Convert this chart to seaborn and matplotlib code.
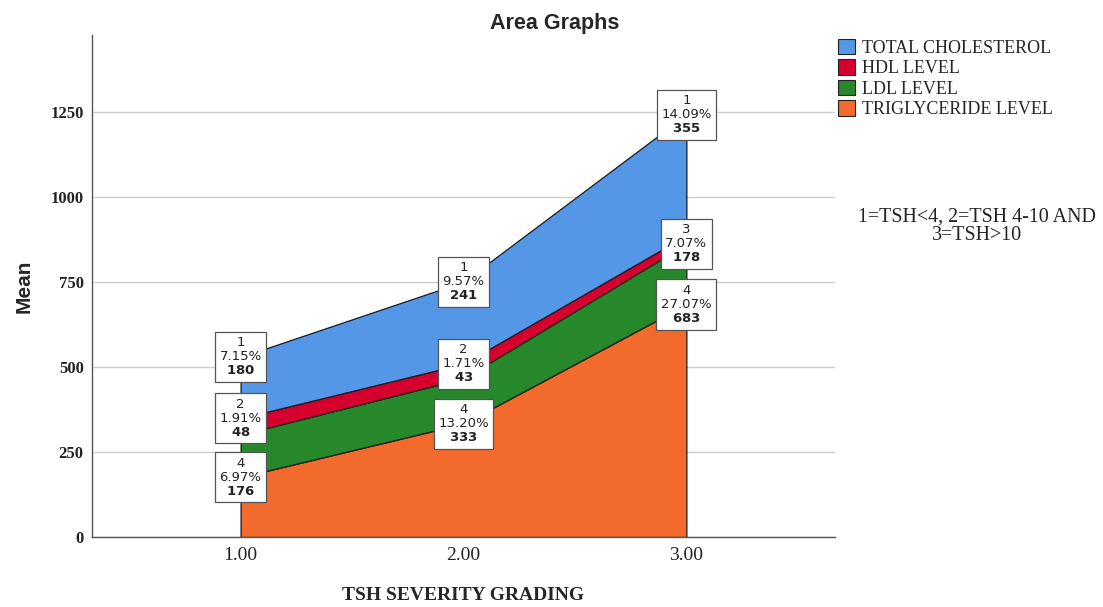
import numpy as np
import matplotlib
matplotlib.use("Agg")
import matplotlib.pyplot as plt
from matplotlib.patches import Patch
import seaborn as sns

# Mean values per TSH severity grade, stacked bottom to top
grading = [1.0, 2.0, 3.0]
triglyceride = [176, 333, 683]
ldl = [125, 133, 178]
hdl = [48, 43, 25]
total_chol = [180, 241, 355]

# Share of grand total shown in the value boxes (None = no box)
pct_total_chol = [7.15, 9.57, 14.09]
pct_hdl = [1.91, 1.71, None]
pct_ldl = [None, None, 7.07]
pct_triglyceride = [6.97, 13.20, 27.07]

series_names = ["TRIGLYCERIDE LEVEL", "LDL LEVEL", "HDL LEVEL", "TOTAL CHOLESTEROL"]
series_ids = [4, 3, 2, 1]
colors = ["#f26a2c", "#27882b", "#d6002f", "#5497e6"]
xtick_labels = ["1.00", "2.00", "3.00"]
yticks = [0, 250, 500, 750, 1000, 1250]

sns.set_theme(style="whitegrid")
plt.rcParams["font.family"] = ["DejaVu Sans"]

fig = plt.figure(figsize=(11.03, 6.07), dpi=100)
ax = fig.add_axes([0.0834, 0.1153, 0.6736, 0.827])

layers = [triglyceride, ldl, hdl, total_chol]
ax.stackplot(grading, *layers, colors=colors, edgecolor="#1a1a1a",
             linewidth=0.9, zorder=2)

# value boxes at the top of each layer
pcts = [pct_triglyceride, pct_ldl, pct_hdl, pct_total_chol]
cum = np.cumsum(np.array(layers, dtype=float), axis=0)
for li, (vals, pc) in enumerate(zip(layers, pcts)):
    for xi, x in enumerate(grading):
        if pc[xi] is None:
            continue
        txt = f"{series_ids[li]}\n{pc[xi]:.2f}%\n$\\mathbf{{{vals[xi]}}}$"
        ax.text(x, cum[li, xi], txt, ha="center", va="center",
                multialignment="center", fontsize=9.5, linespacing=1.1,
                color="#222222", zorder=5,
                bbox=dict(boxstyle="square,pad=0.35", facecolor="white",
                          edgecolor="#555555", linewidth=0.9))

ax.set_xlim(1 / 3, 11 / 3)
ax.set_ylim(0, 1475)
ax.set_xticks(grading)
ax.set_xticklabels(xtick_labels, family="Liberation Serif", fontsize=14)
ax.set_yticks(yticks)
ax.set_yticklabels([str(v) for v in yticks], family="Liberation Serif",
                   fontsize=12, fontweight="bold")
ax.tick_params(axis="x", length=0, pad=7, colors="#222222")
ax.tick_params(axis="y", length=0, pad=6, colors="#222222")
ax.grid(axis="x", visible=False)
ax.grid(axis="y", color="#cfcfcf", linewidth=1.0)
ax.set_facecolor("white")
sns.despine(ax=ax, top=True, right=True)
for side in ("left", "bottom"):
    ax.spines[side].set_visible(True)
    ax.spines[side].set_color("#555555")
    ax.spines[side].set_linewidth(1.0)

ax.set_xlabel("TSH SEVERITY GRADING", family="Liberation Serif",
              fontsize=14, fontweight="bold", labelpad=17)
ax.set_ylabel("Mean", family="Liberation Sans", fontsize=15,
              fontweight="bold", labelpad=12)
fig.suptitle("Area Graphs", x=0.503, y=0.978, family="Liberation Sans",
             fontsize=15.5, fontweight="bold", va="top")

# legend, top series first
handles = [Patch(facecolor=c, edgecolor="#222222", linewidth=0.8)
           for c in colors][::-1]
fig.legend(handles, series_names[::-1], loc="upper left",
           bbox_to_anchor=(0.7535, 0.948), frameon=False,
           prop={"family": "Liberation Serif", "size": 13},
           handlelength=0.95, handleheight=0.95, handletextpad=0.35,
           labelspacing=0.14, borderaxespad=0)

fig.text(0.886, 0.627, "1=TSH<4, 2=TSH 4-10 AND\n3=TSH>10", ha="center",
         va="center", family="Liberation Serif", fontsize=14.4,
         linespacing=0.95, color="#222222")

fig.savefig("out.png", dpi=100, facecolor="white")
